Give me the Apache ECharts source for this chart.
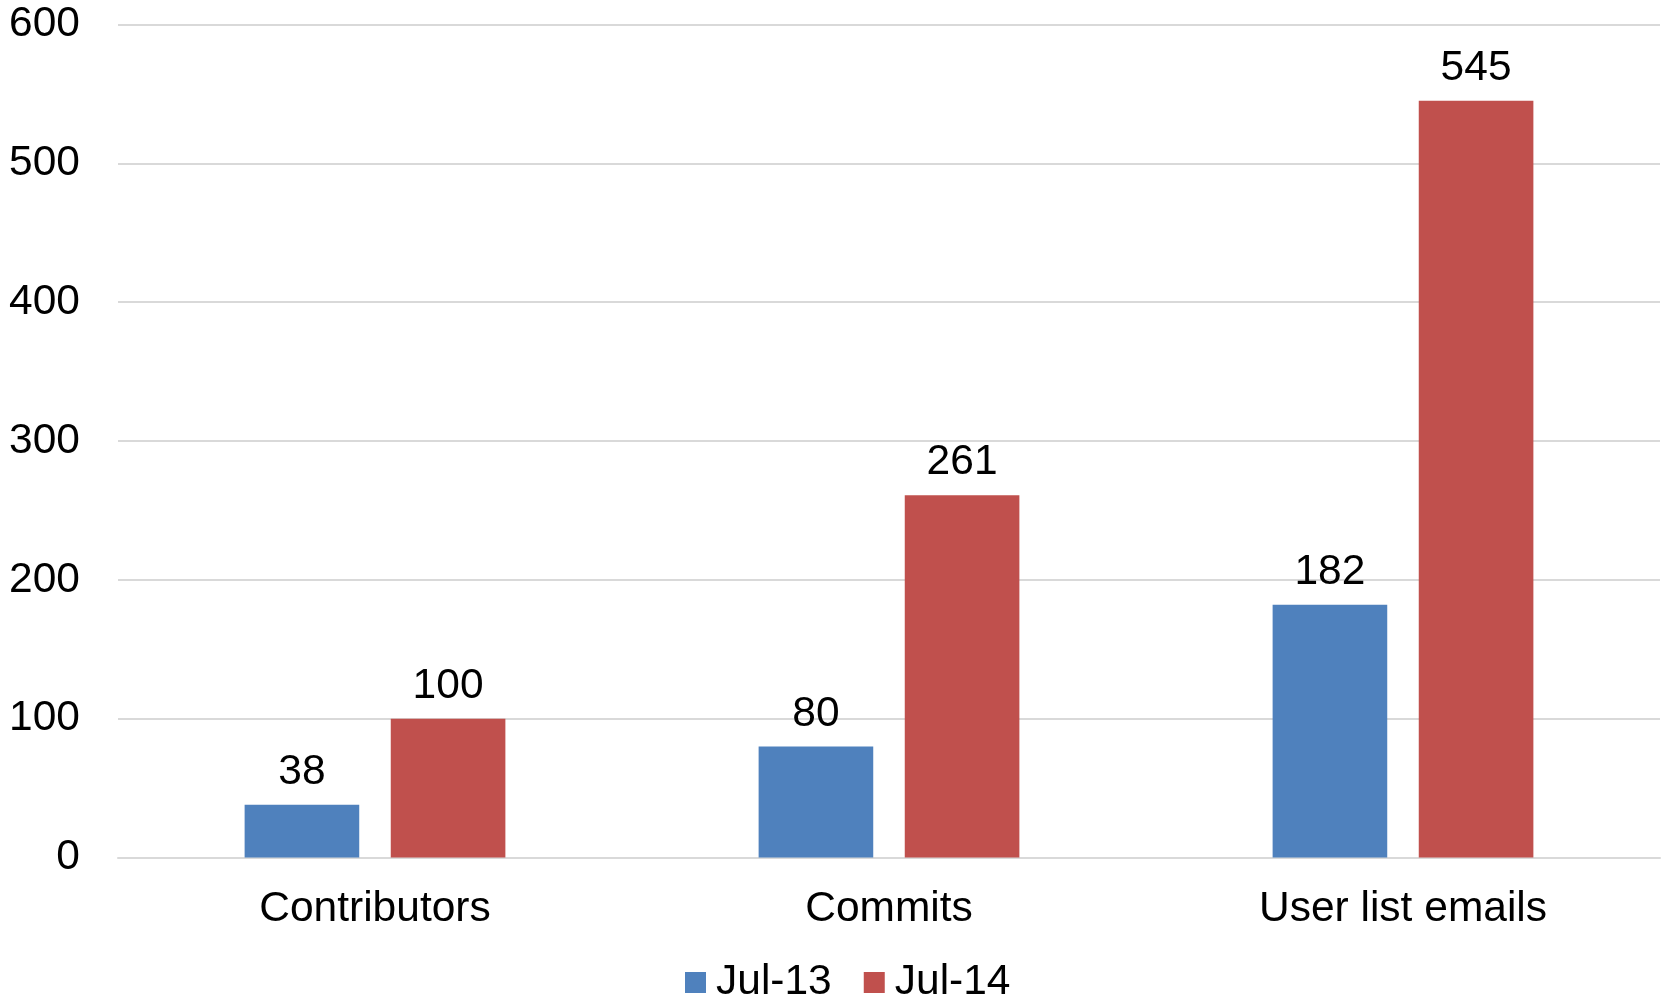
<!DOCTYPE html>
<html>
<head>
<meta charset="utf-8">
<script src="https://cdn.jsdelivr.net/npm/echarts@6/dist/echarts.min.js"></script>
<style>
  html, body { margin: 0; padding: 0; background: #fff; }
  #chart { width: 1663px; height: 997px; }
</style>
</head>
<body>
<div id="chart"></div>
<script>
// data
const categories = ["Contributors", "Commits", "User list emails"];
const jul13 = [38, 80, 182];
const jul14 = [100, 261, 545];
const seriesNames = ["Jul-13", "Jul-14"];

const FONT = "Liberation Sans, Arial, sans-serif";
const FS = 42.5;

let chart = echarts.init(document.getElementById("chart"));

function barSeries(name, data, color) {
  return {
    name: name,
    type: "bar",
    data: data,
    barWidth: "22.3%",
    barGap: "27.5%",
    itemStyle: { color: color },
    label: {
      show: true,
      position: "top",
      distance: 11,
      color: "#000",
      fontSize: FS,
      fontFamily: FONT
    }
  };
}

chart.setOption({
  animation: false,
  grid: { left: 118, right: 3, top: 24.5, bottom: 139.5 },
  legend: {
    left: 680,
    top: 956,
    icon: "rect",
    itemWidth: 21,
    itemHeight: 21,
    itemGap: 32,
    textStyle: { fontSize: FS, fontFamily: FONT, color: "#000", lineHeight: 42, padding: [0, 0, 0, 5] },
    data: seriesNames
  },
  xAxis: {
    type: "category",
    data: categories,
    axisLine: { lineStyle: { color: "#d9d9d9", width: 2 } },
    axisTick: { show: false },
    axisLabel: { color: "#000", fontSize: FS, fontFamily: FONT, margin: 30 }
  },
  yAxis: {
    type: "value",
    min: 0,
    max: 600,
    interval: 100,
    axisLine: { show: false },
    axisTick: { show: false },
    axisLabel: { color: "#000", fontSize: FS, fontFamily: FONT, margin: 38, padding: [4, 0, 0, 0] },
    splitLine: { lineStyle: { color: "#d9d9d9", width: 2 } }
  },
  series: [
    barSeries(seriesNames[0], jul13, "#4f81bd"),
    barSeries(seriesNames[1], jul14, "#c0504d")
  ]
});
</script>
</body>
</html>
